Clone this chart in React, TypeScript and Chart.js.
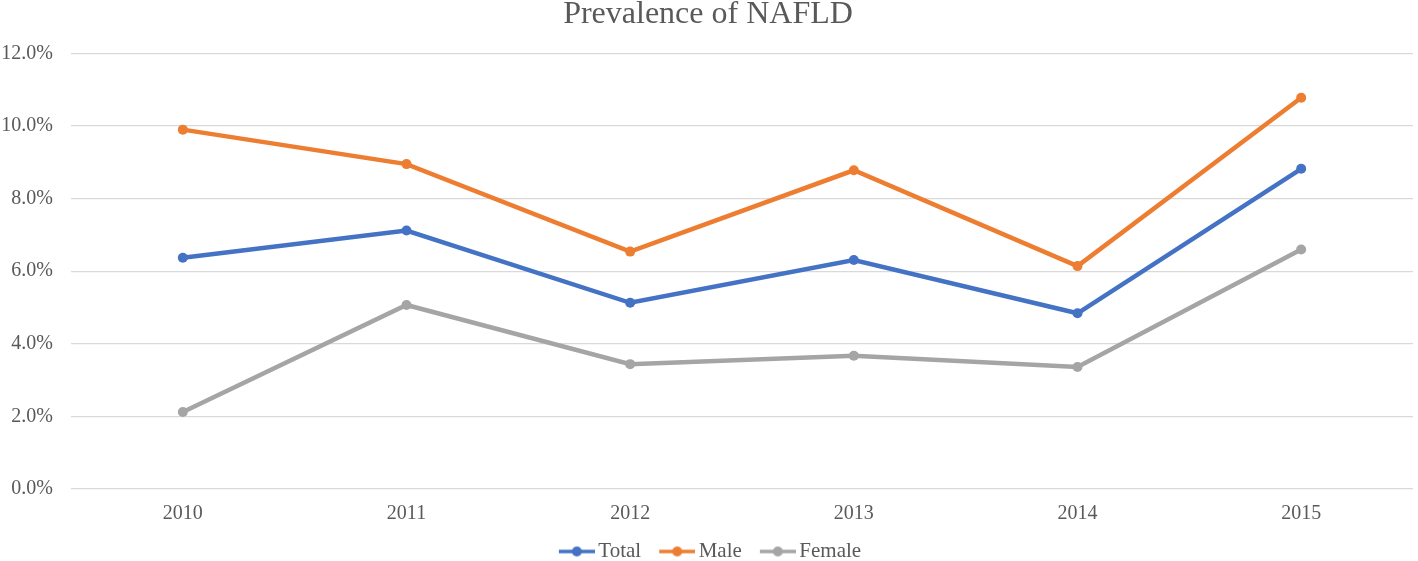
import React, { useEffect, useRef } from "react";
import { Chart, registerables } from "chart.js";

Chart.register(...registerables);

const TITLE = "Prevalence of NAFLD";
const YEARS = ["2010", "2011", "2012", "2013", "2014", "2015"];
const TOTAL = [6.37, 7.12, 5.13, 6.31, 4.84, 8.82];
const MALE = [9.9, 8.95, 6.54, 8.78, 6.14, 10.78];
const FEMALE = [2.12, 5.07, 3.44, 3.67, 3.36, 6.6];
const SERIES_NAMES = ["Total", "Male", "Female"];
const SERIES_COLORS = ["#4472C4", "#ED7D31", "#A5A5A5"];
const Y_MIN = 0;
const Y_MAX = 12;
const Y_STEP = 2;

const FONT = '"Liberation Serif", "Times New Roman", serif';
const TEXT_COLOR = "#595959";
const GRID_COLOR = "#D9D9D9";

// Legend marker: a short line with a dot, drawn off-centre in a wider transparent canvas
function makeLegendMarker(color: string): HTMLCanvasElement {
  const c = document.createElement("canvas");
  c.width = 47;
  c.height = 12;
  const ctx = c.getContext("2d")!;
  ctx.strokeStyle = color;
  ctx.lineWidth = 3.5;
  ctx.beginPath();
  ctx.moveTo(11, 6);
  ctx.lineTo(47, 6);
  ctx.stroke();
  ctx.fillStyle = color;
  ctx.beginPath();
  ctx.arc(29, 6, 5, 0, Math.PI * 2);
  ctx.fill();
  return c;
}

export default function App() {
  const canvasRef = useRef<HTMLCanvasElement | null>(null);

  useEffect(() => {
    const canvas = canvasRef.current;
    if (!canvas) return;
    const markers = SERIES_COLORS.map(makeLegendMarker);
    const seriesData = [TOTAL, MALE, FEMALE];

    const chart = new Chart(canvas, {
      type: "line",
      data: {
        labels: YEARS,
        datasets: SERIES_NAMES.map((name, i) => ({
          label: name,
          data: seriesData[i],
          borderColor: SERIES_COLORS[i],
          backgroundColor: SERIES_COLORS[i],
          borderWidth: 4.5,
          pointRadius: 5,
          pointHoverRadius: 5,
          pointBorderWidth: 0,
          pointStyle: "circle",
          tension: 0,
          fill: false,
        })),
      },
      options: {
        responsive: false,
        animation: false,
        events: [],
        layout: { padding: { left: 0, right: 2, top: 0, bottom: -11 } },
        plugins: {
          tooltip: { enabled: false },
          title: {
            display: true,
            text: TITLE,
            color: TEXT_COLOR,
            font: { family: FONT, size: 32, weight: "normal", lineHeight: 1.2 },
            padding: { top: -5, bottom: 20 },
          },
          legend: {
            display: true,
            position: "bottom",
            labels: {
              color: TEXT_COLOR,
              font: { family: FONT, size: 21 },
              usePointStyle: true,
              pointStyleWidth: 33,
              padding: 14,
              generateLabels: (ch: any) => {
                const items = Chart.defaults.plugins.legend.labels.generateLabels(ch);
                return items.map((it: any, i: number) => ({
                  ...it,
                  pointStyle: markers[i],
                }));
              },
            },
          },
        },
        scales: {
          x: {
            offset: true,
            grid: { display: false, drawTicks: false },
            border: { display: false },
            ticks: {
              color: TEXT_COLOR,
              font: { family: FONT, size: 20 },
              padding: 13,
              maxRotation: 0,
            },
            afterFit: (scale: any) => {
              scale.height = 38;
            },
          },
          y: {
            min: Y_MIN,
            max: Y_MAX,
            grid: { color: GRID_COLOR, lineWidth: 1.3, drawTicks: false },
            border: { display: false },
            ticks: {
              stepSize: Y_STEP,
              color: TEXT_COLOR,
              font: { family: FONT, size: 20 },
              padding: 18,
              callback: (v: any) => Number(v).toFixed(1) + "%",
            },
            afterFit: (scale: any) => {
              scale.width = 71;
            },
          },
        },
      },
    } as any);

    return () => chart.destroy();
  }, []);

  return (
    <div style={{ position: "absolute", left: 0, top: 0, width: 1418, height: 561, background: "#fff" }}>
      <canvas ref={canvasRef} width={1418} height={561} style={{ display: "block" }} />
    </div>
  );
}
